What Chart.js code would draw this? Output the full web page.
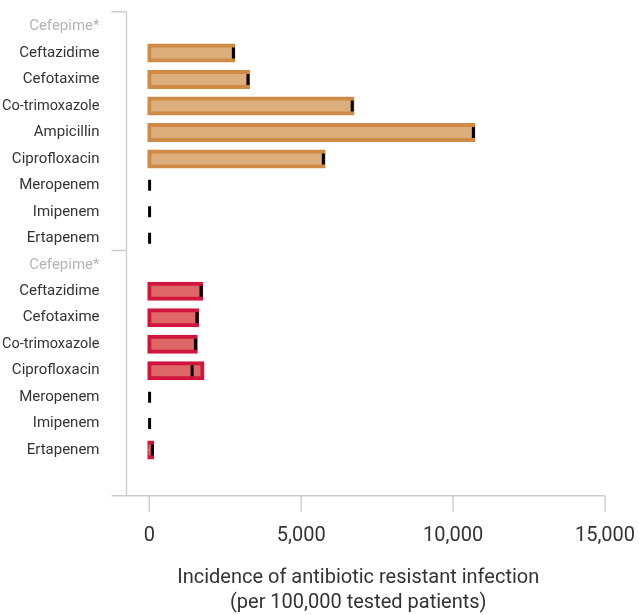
<!DOCTYPE html>
<html>
<head>
<meta charset="utf-8">
<script src="https://cdn.jsdelivr.net/npm/chart.js@4.4.1/dist/chart.umd.min.js"></script>
<style>
  body { margin: 0; background: #fff; }
  #grafico { display: block; }
</style>
</head>
<body>
<canvas id="grafico" width="639" height="615"></canvas>
<script>
// antibiotics, first group (orange) then second group (red)
var drogasGrupo1 = ["Cefepime*", "Ceftazidime", "Cefotaxime", "Co-trimoxazole", "Ampicillin", "Ciprofloxacin", "Meropenem", "Imipenem", "Ertapenem"];
var drogasGrupo2 = ["Cefepime*", "Ceftazidime", "Cefotaxime", "Co-trimoxazole", "Ciprofloxacin", "Meropenem", "Imipenem", "Ertapenem"];

// bar values (per 100,000 tested patients)
var barrasGrupo1 = [null, 2770, 3250, 6690, 10670, 5740, null, null, null];
var barrasGrupo2 = [null, 1710, 1575, 1530, 1750, null, null, 90];

// black tick marks
var marcasGrupo1 = [null, 2770, 3250, 6680, 10670, 5730, 10, 10, 10];
var marcasGrupo2 = [null, 1710, 1575, 1525, 1410, 10, 10, 100];

var ticksX = [0, 5000, 10000, 15000];
var tituloX = ["Incidence of antibiotic resistant infection", "(per 100,000 tested patients)"];

var corTexto = "#333333";
var corCinza = "#b4b4b4";
var corEixo = "#cccccc";

// one empty row at the end leaves the gap above the x axis
var linhas = drogasGrupo1.concat(drogasGrupo2, [""]);
var vazio1 = drogasGrupo1.map(function () { return null; });
var vazio2 = drogasGrupo2.map(function () { return null; });

var dadosLaranja = barrasGrupo1.concat(vazio2, [null]);
var dadosVermelho = vazio1.concat(barrasGrupo2, [null]);
var dadosMarcas = marcasGrupo1.concat(marcasGrupo2, [null]);

// axis lines, ticks, group separator and axis title drawn by hand (offset style axes)
const eixos = {
    id: "eixos",
    afterDraw(chart) {
        const ctx = chart.ctx;
        const area = chart.chartArea;
        const sx = chart.scales.x;
        const sy = chart.scales.y;
        const yEixo = area.bottom + 6;
        const xInicio = area.left - 15;
        const separador = (sy.getPixelForValue(drogasGrupo1.length - 1) + sy.getPixelForValue(drogasGrupo1.length)) / 2 - 1;

        ctx.save();
        ctx.strokeStyle = corEixo;
        ctx.lineWidth = 1.4;
        ctx.beginPath();
        // x axis
        ctx.moveTo(xInicio, yEixo);
        ctx.lineTo(area.right, yEixo);
        ticksX.forEach(function (v) {
            const px = sx.getPixelForValue(v);
            ctx.moveTo(px, yEixo);
            ctx.lineTo(px, yEixo + 16);
        });
        // y axis
        ctx.moveTo(area.left, area.top - 1.5);
        ctx.lineTo(area.left, yEixo);
        ctx.moveTo(xInicio, area.top - 1.5);
        ctx.lineTo(area.left, area.top - 1.5);
        ctx.moveTo(xInicio, separador);
        ctx.lineTo(area.left, separador);
        ctx.stroke();

        // x axis title, centred on the full axis line
        ctx.fillStyle = corTexto;
        ctx.font = "20px Roboto";
        ctx.textAlign = "center";
        ctx.textBaseline = "middle";
        const xMeio = (xInicio + area.right) / 2;
        tituloX.forEach(function (t, i) {
            ctx.fillText(t, xMeio, yEixo + 82 + i * 25);
        });
        ctx.restore();
    }
};

var barraBase = {
    type: "bar",
    barThickness: 15,
    borderWidth: 4,
    borderSkipped: false,
    inflateAmount: 2,
    grouped: false,
    order: 1
};

const config = {
    data: {
        labels: linhas,
        datasets: [
            Object.assign({}, barraBase, {
                label: "Grupo 1",
                data: dadosLaranja,
                backgroundColor: "#dcae7c",
                borderColor: "#cf8b45"
            }),
            Object.assign({}, barraBase, {
                label: "Grupo 2",
                data: dadosVermelho,
                backgroundColor: "#e06767",
                borderColor: "#d1163d"
            }),
            {
                type: "line",
                label: "Marcas",
                indexAxis: "y",
                data: dadosMarcas,
                showLine: false,
                pointStyle: "line",
                pointRotation: 90,
                pointRadius: 5.5,
                pointHoverRadius: 5.5,
                pointBorderWidth: 3,
                pointBorderColor: "#000000",
                pointBackgroundColor: "#000000",
                order: 0
            }
        ]
    },
    options: {
        indexAxis: "y",
        responsive: false,
        animation: false,
        devicePixelRatio: 1,
        locale: "en-US",
        layout: { padding: { top: 13.3, right: 34, bottom: 0, left: 0 } },
        plugins: {
            legend: { display: false },
            tooltip: { enabled: false }
        },
        scales: {
            x: {
                type: "linear",
                position: "bottom",
                min: -750,
                max: 15000,
                grid: { display: false, drawTicks: false },
                border: { display: false },
                afterBuildTicks: function (s) {
                    s.ticks = ticksX.map(function (v) { return { value: v }; });
                },
                afterFit: function (s) {
                    s.height = 125.2;
                    s.paddingLeft = 0;
                    s.paddingRight = 0;
                },
                ticks: {
                    padding: 34,
                    color: corTexto,
                    font: { family: "Roboto", size: 20 },
                    callback: function (v) { return Number(v).toLocaleString("en-US"); }
                }
            },
            y: {
                type: "category",
                position: "left",
                offset: true,
                grid: { display: false, drawTicks: false },
                border: { display: false },
                afterFit: function (s) {
                    s.width = 126.5;
                    s.paddingTop = 0;
                    s.paddingBottom = 0;
                },
                ticks: {
                    padding: 27,
                    autoSkip: false,
                    color: function (c) { return linhas[c.index] === "Cefepime*" ? corCinza : corTexto; },
                    font: function (c) {
                        // the long name is set smaller so it fits the margin
                        if (linhas[c.index] === "Co-trimoxazole") {
                            return { family: "Roboto", size: 14.5 };
                        }
                        return { family: "Roboto", size: 15 };
                    }
                }
            }
        }
    },
    plugins: [eixos]
};

var meuGrafico = new Chart(document.getElementById("grafico"), config);
</script>
</body>
</html>
